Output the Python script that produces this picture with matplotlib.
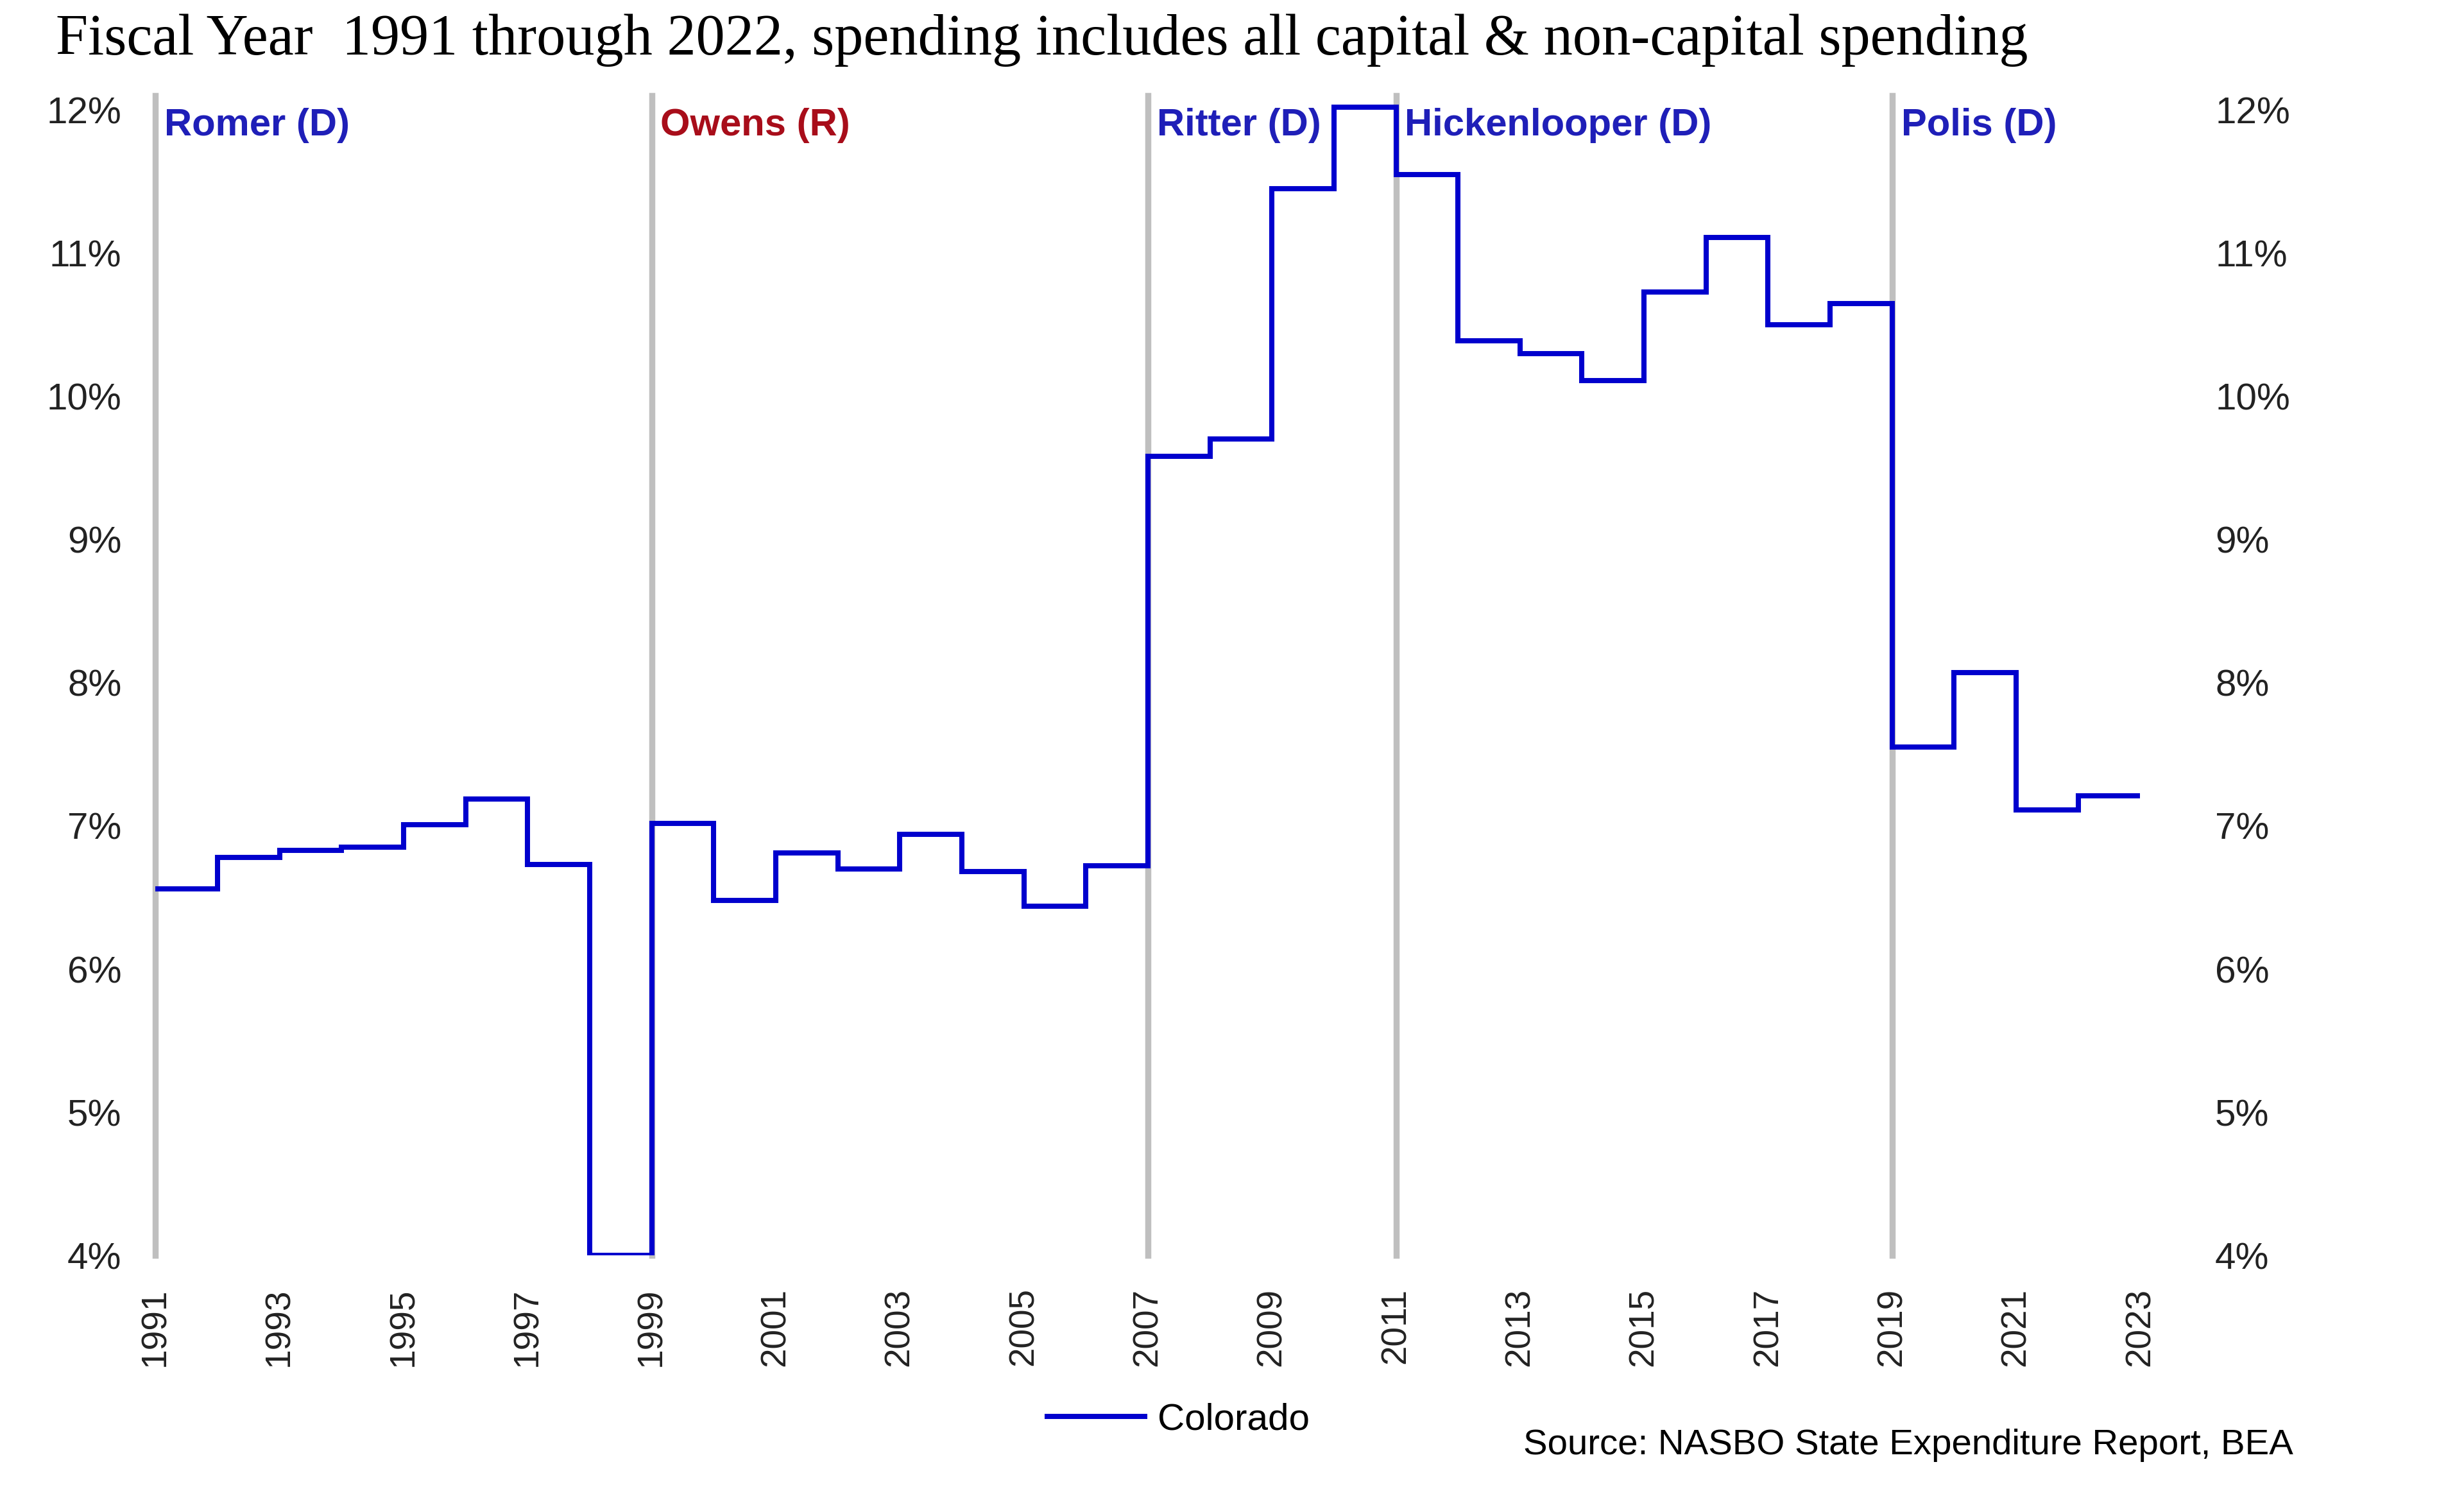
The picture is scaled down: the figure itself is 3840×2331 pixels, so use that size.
import matplotlib
matplotlib.use('Agg')
import matplotlib.pyplot as plt
from matplotlib.ticker import FuncFormatter, MultipleLocator, FixedLocator

# ---------- data (share of spending, %) ----------
years = list(range(1991, 2023))
colorado = [6.56, 6.78, 6.83, 6.85, 7.01, 7.19, 6.73, 4.00,
            7.02, 6.48, 6.81, 6.70, 6.94, 6.68, 6.44, 6.72,
            9.58, 9.70, 11.45, 12.02, 11.55, 10.39, 10.30, 10.11,
            10.73, 11.11, 10.50, 10.65, 7.55, 8.07, 7.11, 7.21]
year_ticks = list(range(1991, 2024, 2))
gov_years = [1991, 1999, 2007, 2011, 2019]
gov_names = ['Romer (D)', 'Owens (R)', 'Ritter (D)', 'Hickenlooper (D)', 'Polis (D)']
gov_colors = ['#1f1fb8', '#a80d1a', '#1f1fb8', '#1f1fb8', '#1f1fb8']

TITLE = 'Fiscal Year  1991 through 2022, spending includes all capital & non-capital spending'
SOURCE = 'Source: NASBO State Expenditure Report, BEA'

SANS = ['Liberation Sans', 'DejaVu Sans']
LINE_BLUE = '#0000cd'
TICK_COL = '#222222'

fig = plt.figure(figsize=(19.2, 11.655), dpi=200)
ax = fig.add_axes([0.0631, 0.1607, 0.8055, 0.7754])

# step line, last value carried through to 2023
xs = years + [years[-1] + 1]
ys = colorado + [colorado[-1]]
ax.plot(xs, ys, drawstyle='steps-post', color=LINE_BLUE, lw=2.9,
        label='Colorado', zorder=3, solid_joinstyle='miter')

for yr, name, col in zip(gov_years, gov_names, gov_colors):
    ax.axvline(yr, color='#bfbfbf', lw=3.4, zorder=1, clip_on=False)
    ax.annotate(name, xy=(yr, 11.89), xytext=(5, 0), textcoords='offset points',
                va='center', ha='left', color=col, fontsize=21.5,
                fontweight='bold', family=SANS)

ax.set_xlim(1991, 2023)
ax.set_ylim(4, 12.1)
ax.xaxis.set_major_locator(FixedLocator(year_ticks))
ax.yaxis.set_major_locator(MultipleLocator(1))
pct = FuncFormatter(lambda v, p: f'{v:.0f}%')
ax.yaxis.set_major_formatter(pct)

for s in ax.spines.values():
    s.set_visible(False)
ax.tick_params(axis='both', length=0, colors=TICK_COL)
ax.tick_params(axis='y', pad=19, labelsize=21)
ax.tick_params(axis='x', pad=18, labelsize=19.8, labelrotation=90)
for lbl in ax.get_xticklabels() + ax.get_yticklabels():
    lbl.set_family(SANS)

# right-hand copy of the percentage scale
ax2 = ax.twinx()
ax2.set_ylim(ax.get_ylim())
ax2.yaxis.set_major_locator(MultipleLocator(1))
ax2.yaxis.set_major_formatter(pct)
for s in ax2.spines.values():
    s.set_visible(False)
ax2.tick_params(axis='y', length=0, labelsize=21, colors=TICK_COL, pad=42)
for lbl in ax2.get_yticklabels():
    lbl.set_family(SANS)

fig.text(0.0226, 0.9906, TITLE, family=['Liberation Serif', 'DejaVu Serif'],
         fontsize=32.5, va='top', ha='left', color='black')

fig.legend(handles=ax.get_lines()[:1], loc='center',
           bbox_to_anchor=(0.4783, 0.051), frameon=False,
           prop={'family': SANS, 'size': 21}, handlelength=2.6,
           handletextpad=0.35)

fig.text(0.9308, 0.034, SOURCE, family=SANS, fontsize=20.3, ha='right',
         va='center', color='black')

fig.savefig('out.png', dpi=200, facecolor='white')
